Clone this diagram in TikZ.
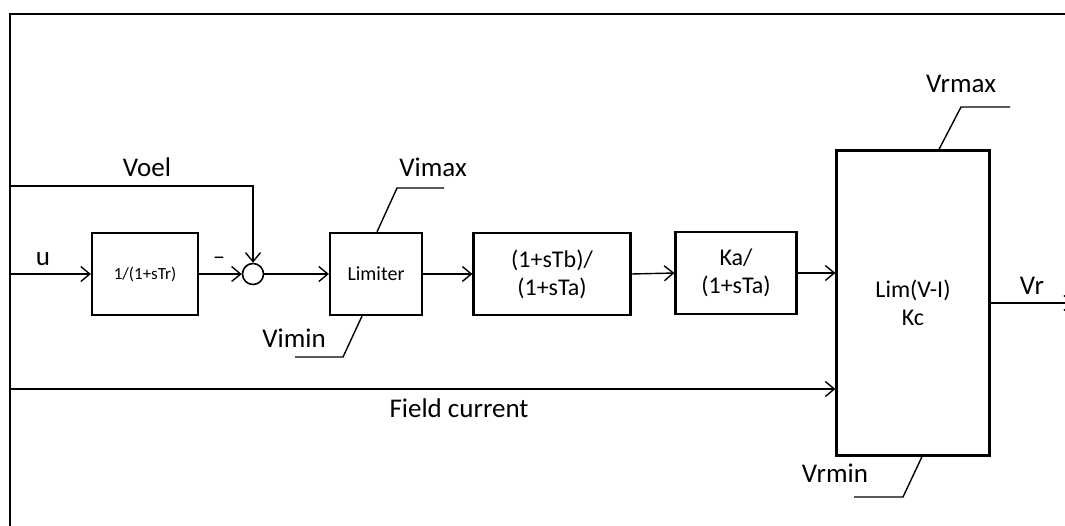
\documentclass[tikz,border=0pt]{standalone}
\usepackage{fontspec}
\setmainfont{Carlito}
\usetikzlibrary{arrows.meta}
\begin{document}
\begin{tikzpicture}[x=1pt,y=-1pt,
  blk/.style={draw, line width=2.2pt, inner sep=0pt, align=center, font=\fontsize{24}{28}\selectfont},
  sig/.style={line width=1.4pt, -{Straight Barb[length=9pt,width=15pt,line width=1.4pt]}},
  leader/.style={line width=1.4pt},
  border/.style={line width=2.4pt},
  lbl/.style={inner sep=0pt, font=\fontsize{27}{30}\selectfont}]
\useasboundingbox (0,0) rectangle (1065,525);
% frame
\coordinate (frtr) at (1075,14);
\coordinate (frtl) at (10,14);
\coordinate (frbl) at (10,535);
\draw[border] (frtr) -- (frtl) -- (frbl);
% blocks
\node[blk, minimum width=106pt, minimum height=82pt, font=\fontsize{17}{20}\selectfont] (trb) at (145,274) {1/(1+sTr)};
\node[circle, draw, line width=1.6pt, minimum size=21pt, inner sep=0pt] (sum) at (253,274) {};
\node[blk, minimum width=92pt, minimum height=82pt, font=\fontsize{20}{24}\selectfont] (lim) at (376,274) {Limiter};
\node[blk, minimum width=157pt, minimum height=82pt] (lead) at (552,274) {(1+sTb)/\\(1+sTa)};
\node[blk, minimum width=121pt, minimum height=82pt] (ka) at (736,273) {Ka/\\(1+sTa)};
\node[blk, minimum width=153pt, minimum height=305pt] (lv) at (913,303) {Lim(V-I)\\Kc};
% inputs
\coordinate (uin) at (10,274);
\coordinate (voin) at (10,186);
\coordinate (fin) at (10,389);
\coordinate (vrout) at (1074,303);
\draw[sig] (uin) -- (trb.west);
\draw[sig] (trb.east) -- (sum.west);
\draw[sig] (voin) -| (sum.north);
\draw[sig] (sum.east) -- (lim.west);
\draw[sig] (lim.east) -- (lead.west);
\draw[sig] (lead.east) -- (ka.west);
\draw[sig] (ka.east) -- (ka.east -| lv.west);
\draw[sig] (fin) -- (fin -| lv.west);
\draw[sig] (lv.east) -- (vrout);
% limit leaders
\coordinate (vimaxk) at (397,188);
\coordinate (vimaxe) at (444,188);
\coordinate (vimink) at (343,357);
\coordinate (vimine) at (295,357);
\coordinate (vrmaxk) at (961,107);
\coordinate (vrmaxe) at (1010,107);
\coordinate (vrmink) at (903,497);
\coordinate (vrmine) at (854,497);
\draw[leader] ([xshift=1pt]lim.north) -- (vimaxk) -- (vimaxe);
\draw[leader] ([xshift=-14pt]lim.south) -- (vimink) -- (vimine);
\draw[leader] ([xshift=26pt]lv.north) -- (vrmaxk) -- (vrmaxe);
\draw[leader] ([xshift=9pt]lv.south) -- (vrmink) -- (vrmine);
% labels
\node[lbl] (lu) at (43,259) {u};
\node[lbl, font=\fontsize{24}{28}\selectfont] (lminus) at (219,261) {–};
\node[lbl] (lvoel) at (147,167) {Voel};
\node[lbl] (lvimax) at (433,167) {Vimax};
\node[lbl] (lvimin) at (294,338) {Vimin};
\node[lbl] (lvrmax) at (961,84) {Vrmax};
\node[lbl] (lvrmin) at (835,473) {Vrmin};
\node[lbl] (lvr) at (1032,286) {Vr};
\node[lbl] (lfield) at (459,408) {Field current};
\end{tikzpicture}
\end{document}
